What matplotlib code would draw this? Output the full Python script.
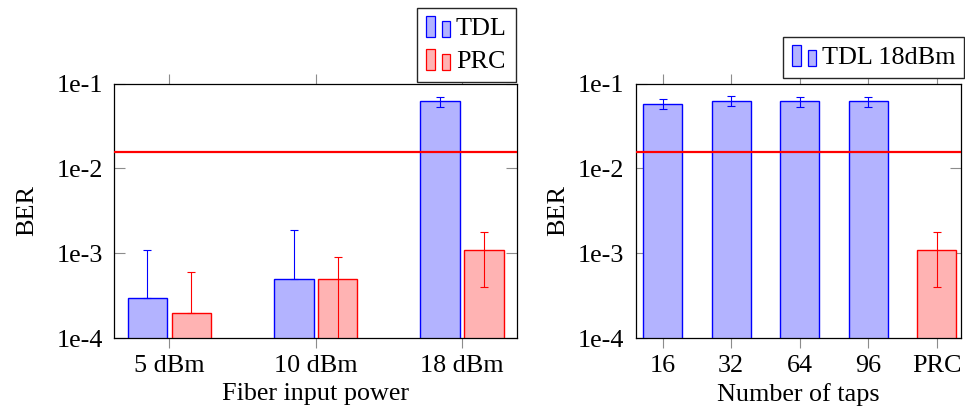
import numpy as np
import matplotlib
matplotlib.use("Agg")
import matplotlib.pyplot as plt
from matplotlib.patches import Rectangle, Patch
from matplotlib.legend_handler import HandlerBase

# ---------------- data ----------------
powers = ['5 dBm', '10 dBm', '18 dBm']
tdl_ber = [3.0e-4, 5.0e-4, 6.15e-2]
tdl_err = [8.0e-4, 1.4e-3, 8.5e-3]
prc_ber = [2.0e-4, 5.0e-4, 1.1e-3]
prc_err = [4.0e-4, 4.0e-4, 7.0e-4]

taps = ['16', '32', '64', '96', 'PRC']
tdl18_ber = [5.8e-2, 6.3e-2, 6.15e-2, 6.15e-2]
tdl18_err = [8.0e-3, 8.5e-3, 8.5e-3, 8.5e-3]
prc18_ber = [1.1e-3]
prc18_err = [7.0e-4]

fec_threshold = 1.55e-2
ytick_vals = [1e-4, 1e-3, 1e-2, 1e-1]
ytick_labels = ['1e-4', '1e-3', '1e-2', '1e-1']

# ---------------- style ----------------
plt.rcParams['font.family'] = ['Liberation Serif', 'DejaVu Serif']
plt.rcParams['font.size'] = 18.8

BLUE_FC = (0.7, 0.7, 1.0)
BLUE_EC = (0.0, 0.0, 1.0)
RED_FC = (1.0, 0.7, 0.7)
RED_EC = (1.0, 0.0, 0.0)
YMIN, YMAX = 1e-4, 1e-1

W, H = 965, 413
fig = plt.figure(figsize=(W / 100, H / 100), dpi=100)


def px_axes(x0, x1, ytop, ybot):
    return fig.add_axes([x0 / W, (H - ybot) / H, (x1 - x0) / W, (ybot - ytop) / H])


class TwoBarHandler(HandlerBase):
    def create_artists(self, legend, orig_handle, xdescent, ydescent,
                       width, height, fontsize, trans):
        fc = orig_handle.get_facecolor()
        ec = orig_handle.get_edgecolor()
        w = 0.32 * fontsize
        gap = 0.27 * fontsize
        y0 = -ydescent - 0.05 * fontsize
        r1 = Rectangle((-xdescent, y0), w, 0.8 * fontsize,
                       facecolor=fc, edgecolor=ec, lw=0.9, transform=trans)
        r2 = Rectangle((-xdescent + w + gap, y0), w, 0.6 * fontsize,
                       facecolor=fc, edgecolor=ec, lw=0.9, transform=trans)
        return [r1, r2]


def draw_bars(ax, xs, vals, errs, fc, ec, width):
    xs = np.asarray(xs, float)
    vals = np.asarray(vals, float)
    errs = np.asarray(errs, float)
    ax.bar(xs, vals, width=width, bottom=0, facecolor=fc, edgecolor=ec,
           linewidth=1.0, zorder=2)
    lo = vals - errs
    # invalid (non-positive) lower ends: draw only the upper part
    lower = np.where(lo <= 0, 0.0, errs)
    # lower ends at/below the axis floor: push them below the visible range
    lower = np.where((lo > 0) & (lo <= YMIN * 1.001), vals - YMIN * 0.9, lower)
    ax.errorbar(xs, vals, yerr=[lower, errs], fmt='none', ecolor=ec,
                elinewidth=0.8, capsize=3.1, capthick=0.8, zorder=3)


def style_axis(ax, xlim):
    ax.set_yscale('log')
    ax.set_ylim(YMIN, YMAX)
    ax.set_xlim(*xlim)
    ax.set_yticks(ytick_vals)
    ax.set_yticklabels(ytick_labels)
    ax.yaxis.set_minor_locator(matplotlib.ticker.NullLocator())
    ax.tick_params(axis='x', which='major', direction='out', length=7.2,
                   width=0.8, color=(0.55, 0.55, 0.55), top=True, bottom=True,
                   labeltop=False, pad=5)
    ax.tick_params(axis='y', which='major', direction='in', length=7.6,
                   width=0.8, color=(0.55, 0.55, 0.55), left=True, right=True,
                   pad=8)
    for sp in ax.spines.values():
        sp.set_linewidth(0.9)
        sp.set_color('black')
    ax.axhline(fec_threshold, color=RED_EC, lw=1.6, zorder=4)
    ax.set_ylabel('BER')


legend_kw = dict(handler_map={Patch: TwoBarHandler()}, loc='lower left',
                 borderaxespad=0, fancybox=False, framealpha=1,
                 edgecolor=(0.15, 0.15, 0.15), handlelength=0.92,
                 handletextpad=0.22, borderpad=0.34, labelspacing=0.38)

# ---------------- left panel ----------------
ax1 = px_axes(114, 517.3, 83.5, 338.3)
x1 = np.arange(len(powers))
draw_bars(ax1, x1 - 0.15, tdl_ber, tdl_err, BLUE_FC, BLUE_EC, 0.27)
draw_bars(ax1, x1 + 0.15, prc_ber, prc_err, RED_FC, RED_EC, 0.27)
style_axis(ax1, (-0.379, 2.378))
ax1.set_xticks(x1)
ax1.set_xticklabels(powers)
ax1.set_xlabel('Fiber input power')
ax1.xaxis.set_label_coords(0.5, -0.174)
ax1.yaxis.set_label_coords(-0.189, 0.5)

h_tdl = Patch(facecolor=BLUE_FC, edgecolor=BLUE_EC)
h_prc = Patch(facecolor=RED_FC, edgecolor=RED_EC)
leg1 = fig.legend([h_tdl, h_prc], ['TDL', 'PRC'],
                  bbox_to_anchor=(417.3 / W, (H - 82.3) / H), **legend_kw)
leg1.get_frame().set_linewidth(1.0)

# ---------------- right panel ----------------
ax2 = px_axes(635.7, 961, 83.5, 338.3)
x2 = np.arange(len(taps))
draw_bars(ax2, x2[:len(tdl18_ber)], tdl18_ber, tdl18_err, BLUE_FC, BLUE_EC, 0.57)
draw_bars(ax2, x2[len(tdl18_ber):], prc18_ber, prc18_err, RED_FC, RED_EC, 0.57)
style_axis(ax2, (-0.394, 4.355))
ax2.set_xticks(x2)
ax2.set_xticklabels(taps)
ax2.set_xlabel('Number of taps')
ax2.xaxis.set_label_coords(0.5, -0.174)
ax2.yaxis.set_label_coords(-0.206, 0.5)

leg2 = fig.legend([h_tdl], ['TDL 18dBm'],
                  bbox_to_anchor=(783.3 / W, (H - 78.3) / H), **legend_kw)
leg2.get_frame().set_linewidth(1.0)

fig.savefig('out.png', dpi=100)
